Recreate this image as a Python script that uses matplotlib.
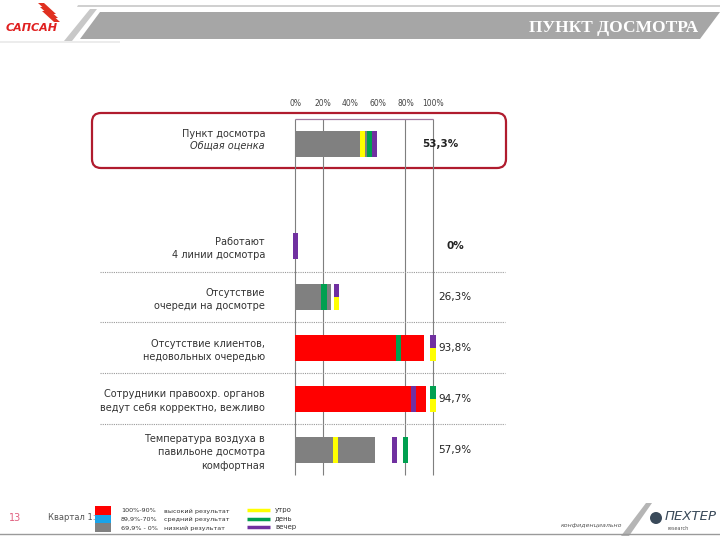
import numpy as np
import matplotlib.pyplot as plt
from matplotlib.patches import FancyBboxPatch, Polygon, Rectangle, Circle

# data
labels = [
    "Пункт досмотра\nОбщая оценка",
    "Работают\n4 линии досмотра",
    "Отсутствие\nочереди на досмотре",
    "Отсутствие клиентов,\nнедовольных очередью",
    "Сотрудники правоохр. органов\nведут себя корректно, вежливо",
    "Температура воздуха в\nпавильоне досмотра\nкомфортная",
]
values = [53.3, 0.0, 26.3, 93.8, 94.7, 57.9]
value_text = ["53,3%", "0%", "26,3%", "93,8%", "94,7%", "57,9%"]
morning = [49, np.nan, 30, 100, 100, 29.5]
day = [54, np.nan, 21, 75, 100, 80]
evening = [57.5, 0.5, 30, 100, 86, 72]
ticks = [0, 20, 40, 60, 80, 100]
tick_labels = ["0%", "20%", "40%", "60%", "80%", "100%"]
grid_at = [0, 20, 80, 100]
legend_ranges = ["100%-90%", "89,9%-70%", "69,9% - 0%"]
legend_levels = ["высокий результат", "средний результат", "низкий результат"]
legend_times = ["утро", "день", "вечер"]

RED, BLUE, GRAY = "#ff0000", "#1aa3e8", "#808080"
C_MOR, C_DAY, C_EVE = "#ffff00", "#00a050", "#7030a0"
TXT = "#333333"

W, H = 720, 540
fig = plt.figure(figsize=(7.2, 5.4), dpi=100)

# decoration layer in pixel coordinates
deco = fig.add_axes([0, 0, 1, 1], zorder=0)
deco.set_xlim(0, W)
deco.set_ylim(H, 0)
deco.axis("off")

# header band
deco.add_patch(Polygon([(78, 5), (720, 5), (720, 7), (77, 7)], closed=True, color="#d0d0d0", lw=0))
deco.add_patch(Polygon([(100, 12), (720, 12), (700, 39), (80, 39)], closed=True, color="#a6a6a6", lw=0))
deco.add_patch(Polygon([(90, 9), (97, 9), (72, 41), (64, 41)], closed=True, color="#c8c8c8", lw=0))
deco.add_patch(Rectangle((0, 41), 120, 2, color="#ececec", lw=0))
deco.text(698, 28, "ПУНКТ ДОСМОТРА", color="white", fontsize=12.5, fontweight="bold",
          family="Liberation Serif", ha="right", va="center")

# logo top-left
for dx, dy in [(0, 0), (2, 4), (4, 8)]:
    deco.add_patch(Polygon([(38 + dx, 3 + dy), (44 + dx, 3 + dy), (56 + dx, 14 + dy), (50 + dx, 14 + dy)],
                           closed=True, color="#e03020", lw=0))
deco.text(6, 28, "САПСАН", color="#e02020", fontsize=8, fontweight="bold", style="italic",
          ha="left", va="center")

# highlight frame around the total row
deco.add_patch(FancyBboxPatch((92, 113), 414, 55, boxstyle="round,pad=0,rounding_size=9",
                              fill=False, edgecolor="#b01c2e", lw=1.6))

# footer
deco.plot([0, 720], [534, 534], color="#9a9a9a", lw=1)
deco.text(15, 518, "13", color="#e06080", fontsize=7, ha="center", va="center")
deco.text(48, 518, "Квартал 1:", color="#555555", fontsize=6, ha="left", va="center")
for i, c in enumerate([RED, BLUE, GRAY]):
    deco.add_patch(Rectangle((95, 506 + i * 8.5), 16, 8.5, color=c, lw=0))
    deco.text(121, 511 + i * 8.5, legend_ranges[i], fontsize=4.6, color=TXT, va="center")
    deco.text(164, 511 + i * 8.5, legend_levels[i], fontsize=4.6, color=TXT, va="center")
for i, c in enumerate([C_MOR, C_DAY, C_EVE]):
    deco.plot([247, 270], [510 + i * 8.5, 510 + i * 8.5], color=c, lw=2.5, solid_capstyle="butt")
    deco.text(275, 510 + i * 8.5, legend_times[i], fontsize=5, color=TXT, va="center")

deco.add_patch(Polygon([(621, 536), (629, 536), (652, 503), (646, 503)], closed=True, color="#b5b5b5", lw=0))
deco.text(592, 525, "конфиденциально", fontsize=4.5, style="italic", color="#555555",
          ha="center", va="center")
deco.add_patch(Circle((656, 518), 6, color="#3a4a5a", lw=0))
deco.text(665, 517, "ПЕХТЕР", fontsize=9.5, style="italic", color="#3a4a5a",
          ha="left", va="center")
deco.text(667, 528, "research", fontsize=3.5, color="#555555", ha="left", va="center")

# chart axes: 0% at x=295, 100% at x=433, rows from y=119 to y=475
ax = fig.add_axes([295 / W, 1 - 475 / H, 138 / W, 356 / H], zorder=1)
ax.patch.set_alpha(0)
ax.set_xlim(0, 100)
ax.set_ylim(6.5, -0.5)
for s in ax.spines.values():
    s.set_visible(False)

ypos = [0, 2, 3, 4, 5, 6]
BAR_H = 0.51
MW = 4.0

ax.vlines(grid_at, -0.5, 6.5, color="#7f7f7f", lw=0.8, zorder=0, clip_on=False)
ax.hlines(-0.5, 0, 100, color="#a07aa0", lw=0.9, zorder=0, clip_on=False)
ax.hlines([2.5, 3.5, 4.5, 5.5], -141, 152, color="#9a9a9a", lw=0.8,
          linestyles=(0, (1, 1)), clip_on=False, zorder=0)


def level_color(v):
    if v >= 90:
        return RED
    if v >= 70:
        return BLUE
    return GRAY


bar_colors = [level_color(v) for v in values]
ax.barh(ypos, values, height=BAR_H, color=bar_colors, zorder=2)

# time-of-day markers; equal values share the bar height
for i, y in enumerate(ypos):
    marks = [(evening[i], C_EVE), (day[i], C_DAY), (morning[i], C_MOR)]
    marks = [(v, c) for v, c in marks if not np.isnan(v)]
    for v, c in reversed(marks):
        same = [m for m in marks if m[0] == v]
        n = len(same)
        k = same.index((v, c))
        h = BAR_H / n
        top = y - BAR_H / 2 + k * h
        ax.barh(top + h / 2, MW, left=v - MW / 2, height=h, color=c, zorder=3, clip_on=False)

# value labels
for i, y in enumerate(ypos):
    xv = 105 if i == 0 else 116
    ax.text(xv, y, value_text[i], fontsize=7.5, color="#222222", ha="center", va="center",
            fontweight="bold" if i < 2 else "normal", clip_on=False)

# row labels
for i, y in enumerate(ypos):
    if i == 0:
        first, second = labels[i].split("\n")
        ax.text(-21.7, y - 0.2, first, fontsize=7, color=TXT, ha="right", va="center")
        ax.text(-21.7, y + 0.03, second, fontsize=7, color=TXT, ha="right", va="center",
                style="italic")
    else:
        ax.text(-21.7, y + 0.05, labels[i], fontsize=7, color=TXT, ha="right", va="center",
                multialignment="right", linespacing=1.45)

ax.xaxis.tick_top()
ax.set_xticks(ticks, tick_labels, fontsize=5.5, color="#444444")
ax.tick_params(axis="x", length=0, pad=8)
ax.set_yticks([])

fig.savefig("out.png", dpi=100)
